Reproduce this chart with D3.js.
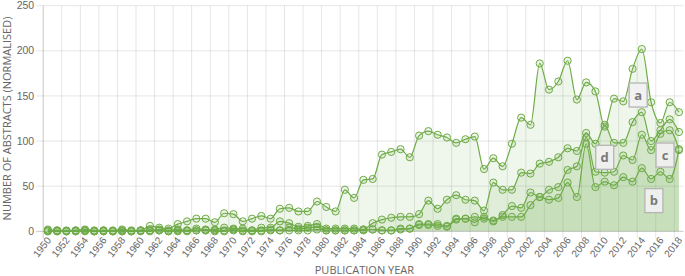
<!DOCTYPE html>
<html>
<head>
<meta charset="utf-8">
<script src="https://cdn.jsdelivr.net/npm/d3@7"></script>
<style>
  html, body { margin: 0; padding: 0; background: #fff; }
  svg { display: block; }
</style>
</head>
<body>
<svg id="chart" width="685" height="276"></svg>
<script>
// ---------- data ----------
const years = d3.range(1950, 2019);
const seriesNames = ["a", "d", "c", "b"];

const seriesA = [2,1,1,1,2,1,1,1,2,1,1, 6,4,3,8,11,14,14,10,20,
  19,11,14,17,14,25,26,22,22,33, 27,22,46,37,57,58,85,88,91,82,
  106,111,107,104,98,102,105,69,81,72, 97,126,118,186,157,166,189,146,165,155,
  116,147,144,180,202,143,120,143,132];
const seriesD = [1,1,0,1,1,0,1,0,0,0,1, 1,2,1,2,1,3,2,2,4,
  3,3,1,4,4,11,9,5,6,8, 3,3,3,3,2,9,13,15,16,16,
  19,34,25,35,40,35,34,23,54,46, 46,65,64,75,77,82,92,89,109,97,
  118,98,98,121,132,100,112,124,110];
const seriesC = [0,0,0,0,1,0,0,0,1,0,0, 0,1,0,1,0,1,1,1,1,
  2,1,1,1,2,1,4,3,4,5, 1,1,1,1,1,2,1,1,3,3,
  8,8,8,6,14,14,16,14,12,18, 28,26,43,38,46,49,68,72,104,66,
  65,66,84,79,107,90,108,112,91];
const seriesB = [0,0,0,0,0,0,0,0,0,0,1, 1,1,0,0,1,1,1,0,0,
  1,0,0,0,1,1,1,1,1,2, 1,1,1,1,2,2,1,1,2,3,
  7,7,6,5,13,14,10,16,11,16, 16,16,29,38,35,37,54,38,97,49,
  55,51,60,55,70,58,66,58,90];

const yTicks = [0, 50, 100, 150, 200, 250];
const xTickYears = years.filter(v => v % 2 === 0);

// label anchors (year, value) for the series tags
const tagNames = ["a", "d", "c", "b"];
const tagYears = [2013.6, 2010.0, 2016.5, 2015.3];
const tagValues = [151, 82, 84.5, 34];

// ---------- layout ----------
const mLeft = 43.2, mRight = 683.6, mTop = 5.7, mBottom = 231.3;
const green = "#6fab47";

const svg = d3.select("#chart");

const x = d3.scalePoint().domain(years).range([mLeft, mRight]).padding(0.5);
const step = x.step();
const xc = v => x(years[0]) + (v - years[0]) * step;  // continuous helper for tags
const y = d3.scaleLinear().domain([0, 250]).range([mBottom, mTop]);

// ---------- grid ----------
const grid = svg.append("g");
grid.selectAll("line.h").data(yTicks).join("line")
  .attr("x1", mLeft - 7).attr("x2", mRight)
  .attr("y1", d => y(d)).attr("y2", d => y(d))
  .attr("stroke", d => d === 0 ? "rgba(0,0,0,0.22)" : "rgba(0,0,0,0.1)")
  .attr("stroke-width", 1);
grid.selectAll("line.v").data(xTickYears).join("line")
  .attr("x1", d => x(d) - step / 2).attr("x2", d => x(d) - step / 2)
  .attr("y1", mTop).attr("y2", mBottom + 7)
  .attr("stroke", (d, i) => i === 0 ? "rgba(0,0,0,0.22)" : "rgba(0,0,0,0.1)")
  .attr("stroke-width", 1);

// ---------- series ----------
const allSeries = [seriesA, seriesD, seriesC, seriesB];
const curve = d3.curveMonotoneX;
const area = d3.area().x((d, i) => x(years[i])).y0(y(0)).y1(d => y(d)).curve(curve);
const line = d3.line().x((d, i) => x(years[i])).y(d => y(d)).curve(curve);

const gSeries = svg.append("g");
allSeries.forEach(s => {
  gSeries.append("path").attr("d", area(s))
    .attr("fill", green).attr("fill-opacity", 0.11);
});
allSeries.forEach(s => {
  gSeries.append("path").attr("d", line(s))
    .attr("fill", "none").attr("stroke", green).attr("stroke-width", 1.2);
});
allSeries.forEach(s => {
  gSeries.append("g").selectAll("circle").data(s).join("circle")
    .attr("cx", (d, i) => x(years[i])).attr("cy", d => y(d)).attr("r", 3.6)
    .attr("fill", green).attr("fill-opacity", 0.12)
    .attr("stroke", green).attr("stroke-width", 1);
});

// ---------- axes labels ----------
svg.append("g").selectAll("text").data(yTicks).join("text")
  .attr("x", mLeft - 9).attr("y", d => y(d)).attr("dy", "0.35em")
  .attr("text-anchor", "end")
  .attr("font-family", "Liberation Sans, Arial, sans-serif").attr("font-size", 10.5)
  .attr("fill", "#666").text(d => d);

svg.append("g").selectAll("text").data(xTickYears).join("text")
  .attr("transform", d => `translate(${x(d) + 1},${mBottom + 7}) rotate(-52)`)
  .attr("dy", "0.35em")
  .attr("text-anchor", "end")
  .attr("font-family", "Liberation Sans, Arial, sans-serif").attr("font-size", 10)
  .attr("fill", "#666").text(d => d);

svg.append("text")
  .attr("x", (mLeft + mRight) / 2 + 1).attr("y", 274)
  .attr("text-anchor", "middle")
  .attr("font-family", "Open Sans, sans-serif").attr("font-size", 11)
  .attr("fill", "#666").text("PUBLICATION YEAR");

svg.append("text")
  .attr("transform", `translate(11,${(mTop + mBottom) / 2}) rotate(-90)`)
  .attr("text-anchor", "middle")
  .attr("font-family", "Open Sans, sans-serif").attr("font-size", 11)
  .attr("fill", "#666").text("NUMBER OF ABSTRACTS (NORMALISED)");

// ---------- series tags ----------
const tags = svg.append("g");
tagNames.forEach((n, i) => {
  const cx = xc(tagYears[i]), cy = y(tagValues[i]);
  tags.append("rect")
    .attr("x", cx - 9).attr("y", cy - 12).attr("width", 18).attr("height", 24)
    .attr("fill", "#f1f1f1").attr("fill-opacity", 0.92)
    .attr("stroke", "#b5b5b5").attr("stroke-width", 1.3);
  tags.append("text")
    .attr("x", cx).attr("y", cy).attr("dy", "0.35em")
    .attr("text-anchor", "middle")
    .attr("font-family", "Open Sans, sans-serif").attr("font-weight", "bold").attr("font-size", 13)
    .attr("fill", "#7a7a7a").text(n);
});
</script>
</body>
</html>
